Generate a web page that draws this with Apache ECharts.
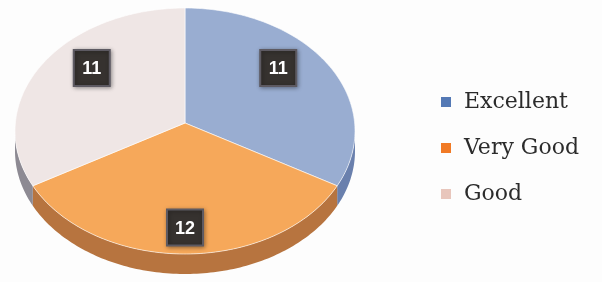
<!DOCTYPE html>
<html>
<head>
<meta charset="utf-8">
<script src="https://cdn.jsdelivr.net/npm/echarts@6/dist/echarts.min.js"></script>
<style>
  html, body { margin: 0; background: #fdfdfd; }
  #main { width: 602px; height: 282px; }
</style>
</head>
<body>
<div id="main"></div>
<script>
// data
var categories = ["Excellent", "Very Good", "Good"];
var values = [11, 12, 11];

var topColors = ["#99add1", "#f6a85a", "#efe6e5"];
var sideColors = ["#6a80ad", "#b7743f", "#8d8a93"];
var legendColors = ["#5479b5", "#f17a25", "#e8c6bc"];

// tilted pie geometry (apex sits a bit above the ellipse centre)
var cx = 185, cy = 131, rx = 170, ry = 123, depth = 20, apexY = 123;
var total = values.reduce(function (a, b) { return a + b; }, 0);

function pt(a, dy) {
  return [cx + rx * Math.cos(a), cy + ry * Math.sin(a) + (dy || 0)];
}

function arc(a0, a1, dy) {
  var pts = [];
  var n = Math.max(2, Math.ceil((a1 - a0) / 0.02));
  for (var k = 0; k <= n; k++) {
    pts.push(pt(a0 + (a1 - a0) * k / n, dy));
  }
  return pts;
}

function makeSeries(i) {
  return {
    type: "custom",
    name: categories[i],
    coordinateSystem: "none",
    itemStyle: { color: legendColors[i] },
    data: [values[i]],
    renderItem: function (params, api) {
      var before = 0;
      for (var j = 0; j < i; j++) before += values[j];
      var a0 = -Math.PI / 2 + 2 * Math.PI * before / total;
      var a1 = a0 + 2 * Math.PI * api.value(0) / total;
      var children = [];

      // side wall for the front (lower) half
      var s0 = Math.max(a0, 0), s1 = Math.min(a1, Math.PI);
      if (s1 > s0) {
        var side = arc(s0, s1, 0).concat(arc(s0, s1, depth).reverse());
        children.push({
          type: "polygon",
          z2: 1,
          shape: { points: side },
          style: { fill: sideColors[i] }
        });
      }

      var face = [[cx, apexY]].concat(arc(a0, a1, 0));
      children.push({
        type: "polygon",
        z2: 5,
        shape: { points: face },
        style: { fill: topColors[i], stroke: "rgba(255,255,255,0.6)", lineWidth: 1 }
      });

      var m = (a0 + a1) / 2;
      var lx = cx + 0.645 * rx * Math.cos(m);
      var ly = apexY + 0.85 * ry * Math.sin(m);
      children.push({
        type: "rect",
        z2: 10,
        shape: { x: lx - 18, y: ly - 18, width: 36, height: 36 },
        style: {
          fill: "#36322f", stroke: "#5d5a62", lineWidth: 2,
          shadowBlur: 4, shadowColor: "rgba(0,0,0,0.35)", shadowOffsetX: 1, shadowOffsetY: 1
        }
      });
      children.push({
        type: "text",
        z2: 11,
        style: {
          x: lx, y: ly + 1,
          text: String(api.value(0)),
          fill: "#ffffff",
          font: "bold 18px 'Liberation Sans', sans-serif",
          textAlign: "center",
          textVerticalAlign: "middle"
        }
      });
      return { type: "group", children: children };
    }
  };
}

var chart = echarts.init(document.getElementById("main"));
chart.setOption({
  animation: false,
  backgroundColor: "#fdfdfd",
  legend: {
    orient: "vertical",
    left: 436,
    top: 86,
    icon: "rect",
    itemWidth: 10,
    itemHeight: 10,
    itemGap: 24,
    data: categories,
    selectedMode: false,
    textStyle: {
      fontFamily: "'DejaVu Serif', serif",
      fontSize: 22,
      color: "#2b2b2b",
      padding: [0, 0, 0, 8]
    }
  },
  series: categories.map(function (c, i) { return makeSeries(i); })
});
</script>
</body>
</html>
